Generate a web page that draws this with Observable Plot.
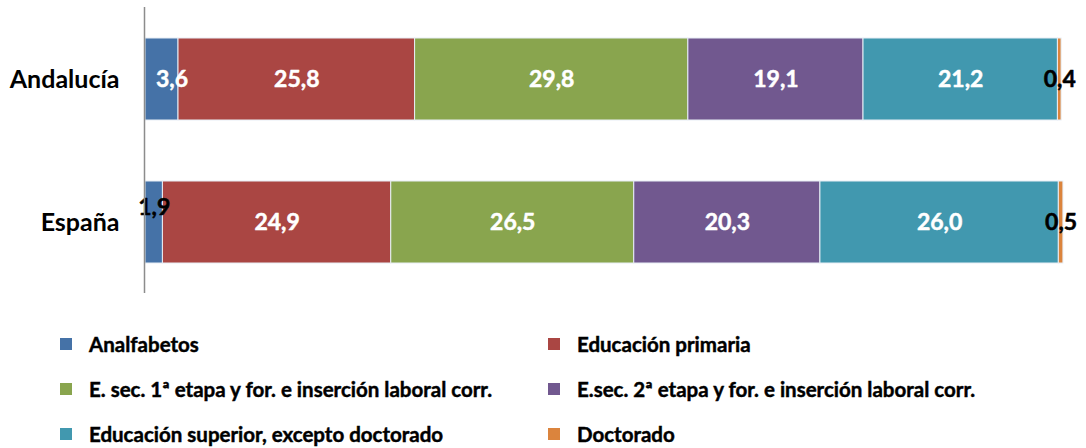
<!DOCTYPE html>
<html>
<head>
<meta charset="utf-8">
<script src="https://cdn.jsdelivr.net/npm/d3@7"></script>
<script src="https://cdn.jsdelivr.net/npm/@observablehq/plot@0.6"></script>
<style>
  body { margin: 0; background: #fff; font-family: Lato, "Open Sans", sans-serif; }
  #wrap { position: relative; width: 1086px; height: 448px; overflow: hidden; }
  #legend { position: absolute; left: 0; top: 321px; width: 1086px; }
  .row { height: 45px; position: relative; }
  .item { position: absolute; top: 0; height: 45px; display: flex; align-items: center; font-weight: 700; font-size: 20.5px; color: #000; white-space: nowrap; -webkit-text-stroke: 0.45px #000; }
  .sw { width: 12px; height: 12px; margin-right: 17px; flex: none; }
  svg text { paint-order: stroke; }
</style>
</head>
<body>
<div id="wrap">
  <div id="chart"></div>
  <div id="legend"></div>
</div>
<script>
const regions = ["Andalucía", "España"];
const categories = [
  "Analfabetos",
  "Educación primaria",
  "E. sec. 1ª etapa y for. e inserción laboral corr.",
  "E.sec. 2ª etapa y for. e inserción laboral corr.",
  "Educación superior, excepto doctorado",
  "Doctorado"
];
const colors = ["#4572A7", "#AA4643", "#89A54E", "#71588F", "#4198AF", "#DB843D"];
const andalucia = [3.6, 25.8, 29.8, 19.1, 21.2, 0.4];
const espana = [1.9, 24.9, 26.5, 20.3, 26.0, 0.5];

const data = [];
categories.forEach((c, i) => {
  data.push({region: regions[0], category: c, value: andalucia[i]});
  data.push({region: regions[1], category: c, value: espana[i]});
});

const fmt = v => v.toFixed(1).replace(".", ",");
const isFirst = d => d.category === categories[0];
const raised = d => isFirst(d) && d.region === regions[1];
const shifted = d => isFirst(d) && d.region === regions[0];

const textOpts = {
  x: "value", y: "region", z: "category", order: categories,
  fill: d => d.value < 3 ? "#000" : "#fff",
  stroke: d => d.value < 3 ? "#000" : "#fff",
  strokeWidth: 0.5,
  fontSize: 23, fontWeight: 700
};

const chart = Plot.plot({
  width: 1086,
  height: 300,
  marginLeft: 145,
  marginRight: 24,
  marginTop: 7,
  marginBottom: 7,
  style: {fontFamily: "Lato, 'Open Sans', sans-serif", background: "#fff"},
  x: {domain: [0, 100], axis: null},
  y: {domain: regions, paddingInner: 0.427, paddingOuter: 0.21, label: null},
  color: {domain: categories, range: colors},
  marks: [
    Plot.barX(data, Plot.stackX({
      x: "value", y: "region", fill: "category", order: categories,
      stroke: "#e8eef5", strokeWidth: 1
    })),
    Plot.text(data, Plot.stackX({...textOpts, text: d => isFirst(d) ? "" : fmt(d.value)})),
    Plot.text(data, Plot.stackX({...textOpts, text: d => raised(d) ? fmt(d.value) : "", dy: -15})),
    Plot.text(data, Plot.stackX({...textOpts, text: d => shifted(d) ? fmt(d.value) : "", dx: 10})),
    Plot.ruleX([0], {stroke: "#8c8c8c", strokeWidth: 1.5, dx: -1}),
    Plot.axisY({tickSize: 0, tickPadding: 26, fontSize: 25, fontWeight: 700, fill: "#000", stroke: "#000", strokeWidth: 0.5, label: null})
  ]
});
document.getElementById("chart").appendChild(chart);

// legend
const legend = document.getElementById("legend");
const colLeft = [60, 548];
for (let r = 0; r < 3; r++) {
  const row = document.createElement("div");
  row.className = "row";
  for (let c = 0; c < 2; c++) {
    const idx = r * 2 + c;
    const item = document.createElement("div");
    item.className = "item";
    item.style.left = colLeft[c] + "px";
    const sw = document.createElement("span");
    sw.className = "sw";
    sw.style.background = colors[idx];
    const tx = document.createElement("span");
    tx.textContent = categories[idx];
    item.appendChild(sw);
    item.appendChild(tx);
    row.appendChild(item);
  }
  legend.appendChild(row);
}
</script>
</body>
</html>
